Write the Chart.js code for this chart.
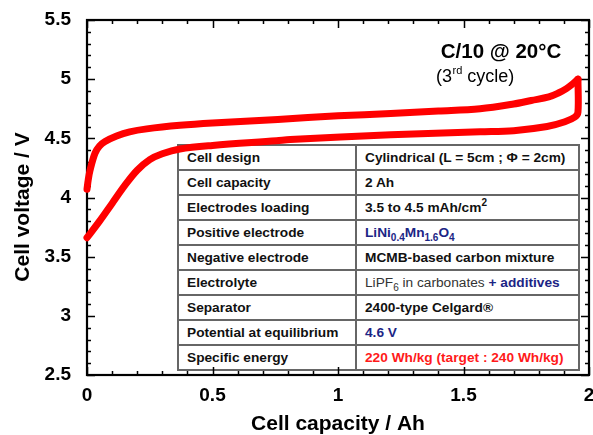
<!DOCTYPE html>
<html>
<head>
<meta charset="utf-8">
<script src="https://cdn.jsdelivr.net/npm/chart.js@4/dist/chart.umd.min.js"></script>
<style>
  html, body { margin: 0; padding: 0; background: #fff; }
  #wrap { position: relative; width: 593px; height: 435px; overflow: hidden;
          font-family: "Liberation Sans", Arial, Helvetica, sans-serif; }
  #cv { position: absolute; left: 0; top: 0; z-index: 2; }
  #spec { position: absolute; left: 177px; top: 144px; z-index: 1;
          border-collapse: collapse; table-layout: fixed; width: 401px; }
  #spec td { border: 2px solid #666; height: 23px; padding: 0 0 0 8px;
             font-size: 13.7px; font-weight: bold; color: #111;
             white-space: nowrap; vertical-align: middle; line-height: 16px; }
  #spec sub, #spec sup { font-size: 10px; line-height: 0; }
  .blue { color: #1c2585; }
  .red { color: #ff1a1a; }
  .thin { font-weight: normal; color: #333; }
</style>
</head>
<body>
<div id="wrap">
  <table id="spec"><colgroup><col style="width:178px"><col style="width:223px"></colgroup><tbody id="specBody"></tbody></table>
  <canvas id="cv" width="593" height="435" style="width:593px;height:435px"></canvas>
</div>
<script>
// Charge branch (capacity in Ah, voltage in V)
const chargeCapacity = [0, 0.005, 0.012, 0.032, 0.05, 0.072, 0.118, 0.17, 0.238, 0.37, 0.5, 0.76, 1.0, 1.21, 1.4, 1.566, 1.7, 1.77, 1.84, 1.88, 1.91, 1.935, 1.956];
const chargeVoltage  = [4.07, 4.15, 4.23, 4.375, 4.435, 4.473, 4.52, 4.555, 4.58, 4.61, 4.63, 4.66, 4.69, 4.71, 4.73, 4.75, 4.79, 4.82, 4.85, 4.885, 4.92, 4.96, 5.0];

// Discharge branch, starting from the end of charge
const dischargeCapacity = [1.956, 1.956, 1.944, 1.904, 1.833, 1.70, 1.566, 1.21, 0.81, 0.755, 0.5, 0.37, 0.30, 0.25, 0.20, 0.15, 0.10, 0.05, 0];
const dischargeVoltage  = [5.0, 4.72, 4.68, 4.64, 4.60, 4.565, 4.555, 4.53, 4.49, 4.48, 4.44, 4.41, 4.37, 4.32, 4.23, 4.10, 3.95, 3.80, 3.66];

const capacityTicks = [0, 0.5, 1, 1.5, 2];
const voltageTicks = [2.5, 3, 3.5, 4, 4.5, 5, 5.5];

// Cell specification table: label / value (value may carry inline markup)
const specNames = ['Cell design', 'Cell capacity', 'Electrodes loading', 'Positive electrode', 'Negative electrode',
                   'Electrolyte', 'Separator', 'Potential at equilibrium', 'Specific energy'];
const specValues = [
  'Cylindrical (L = 5cm ; &Phi; = 2cm)',
  '2 Ah',
  '3.5 to 4.5 mAh/cm<sup>2</sup>',
  '<span class="blue">LiNi<sub>0.4</sub>Mn<sub>1.6</sub>O<sub>4</sub></span>',
  'MCMB-based carbon mixture',
  '<span class="thin">LiPF<sub>6</sub> in carbonates</span> <span class="blue">+ additives</span>',
  '2400-type Celgard&reg;',
  '<span class="blue">4.6 V</span>',
  '<span class="red">220 Wh/kg (target : 240 Wh/kg)</span>'
];

const body = document.getElementById('specBody');
specNames.forEach((name, i) => {
  const tr = document.createElement('tr');
  tr.innerHTML = '<td>' + name + '</td><td>' + specValues[i] + '</td>';
  body.appendChild(tr);
});

const FONT = '"Liberation Sans", Arial, Helvetica, sans-serif';

// Boxed frame with inward major/minor ticks on all four sides, labels and titles
const framePlugin = {
  id: 'frame',
  beforeDatasetsDraw(chart) {
    const { ctx, chartArea: a, scales: { x, y } } = chart;
    ctx.save();
    ctx.strokeStyle = '#000';
    ctx.lineWidth = 1.5;
    ctx.beginPath();
    for (let i = 0; i <= 20; i++) {
      const px = Math.round(x.getPixelForValue(i / 10)) + 0.5;
      const len = i % 5 === 0 ? 8 : 4;
      ctx.moveTo(px, a.bottom); ctx.lineTo(px, a.bottom - len);
      ctx.moveTo(px, a.top); ctx.lineTo(px, a.top + len);
    }
    for (let i = 0; i <= 30; i++) {
      const py = Math.round(y.getPixelForValue(2.5 + i / 10)) + 0.5;
      const len = i % 5 === 0 ? 8 : 4;
      ctx.moveTo(a.left, py); ctx.lineTo(a.left + len, py);
      ctx.moveTo(a.right, py); ctx.lineTo(a.right - len, py);
    }
    ctx.stroke();
    ctx.lineWidth = 2.2;
    ctx.strokeRect(a.left, a.top, a.right - a.left, a.bottom - a.top);

    ctx.fillStyle = '#000';
    ctx.font = 'bold 19px ' + FONT;
    ctx.textAlign = 'right';
    ctx.textBaseline = 'middle';
    voltageTicks.forEach(v => ctx.fillText(String(v), a.left - 16, y.getPixelForValue(v)));
    ctx.textAlign = 'center';
    capacityTicks.forEach(v => ctx.fillText(String(v), x.getPixelForValue(v), a.bottom + 21));

    ctx.font = 'bold 21px ' + FONT;
    ctx.fillText('Cell capacity / Ah', (a.left + a.right) / 2, 424);
    ctx.save();
    ctx.translate(23, 207);
    ctx.rotate(-Math.PI / 2);
    ctx.fillText('Cell voltage / V', 0, 0);
    ctx.restore();

    // Test conditions
    ctx.font = 'bold 20.5px ' + FONT;
    ctx.fillText('C/10 @ 20°C', 501, 52);
    ctx.textAlign = 'left';
    ctx.font = '18px ' + FONT;
    let cx = 436;
    ctx.fillText('(3', cx, 77);
    cx += ctx.measureText('(3').width;
    ctx.font = '11px ' + FONT;
    ctx.fillText('rd', cx + 0.5, 71);
    cx += ctx.measureText('rd').width + 0.5;
    ctx.font = '18px ' + FONT;
    ctx.fillText(' cycle)', cx, 77);
    ctx.restore();
  }
};

const toPoints = (xs, ys) => xs.map((v, i) => ({ x: v, y: ys[i] }));

const lineStyle = {
  showLine: true,
  borderColor: '#ff0000',
  borderWidth: 7,
  pointRadius: 0,
  tension: 0.35,
  borderCapStyle: 'round',
  borderJoinStyle: 'round',
  fill: false,
  clip: 8
};

new Chart(document.getElementById('cv'), {
  type: 'scatter',
  data: {
    datasets: [
      Object.assign({ label: 'Charge', data: toPoints(chargeCapacity, chargeVoltage) }, lineStyle),
      Object.assign({ label: 'Discharge', data: toPoints(dischargeCapacity, dischargeVoltage) }, lineStyle)
    ]
  },
  options: {
    responsive: false,
    devicePixelRatio: 1,
    animation: false,
    events: [],
    layout: { padding: { top: 20, right: 4, left: 0, bottom: 0 } },
    plugins: { legend: { display: false }, tooltip: { enabled: false }, title: { display: false } },
    scales: {
      x: {
        type: 'linear', min: 0, max: 2,
        grid: { display: false }, border: { display: false }, ticks: { display: false },
        afterFit: s => { s.height = 60; }
      },
      y: {
        type: 'linear', min: 2.5, max: 5.5,
        grid: { display: false }, border: { display: false }, ticks: { display: false },
        afterFit: s => { s.width = 87; }
      }
    }
  },
  plugins: [framePlugin]
});
</script>
</body>
</html>
